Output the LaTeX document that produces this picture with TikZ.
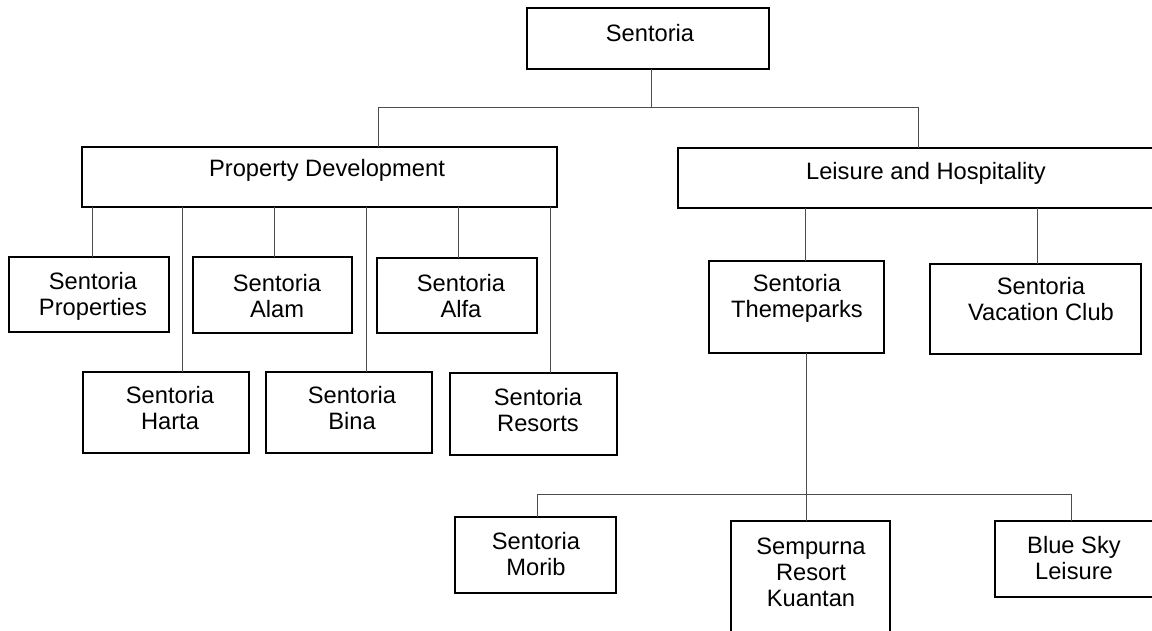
\documentclass[tikz,border=0pt]{standalone}
\usepackage{fontspec}
\setmainfont{Liberation Sans}
\begin{document}
\begin{tikzpicture}[x=1pt,y=-1pt,
  box/.style={draw=black, line width=1.3pt, inner sep=0pt, outer sep=0pt, anchor=north west},
  lbl/.style={align=center, inner sep=0pt, font=\fontsize{23.7}{26}\selectfont},
  conn/.style={draw=black!70, line width=0.9pt}]
\clip (0,0) rectangle (1152,630);
\fill[white] (0,0) rectangle (1152,630);
% boxes
\node[box, minimum width=242pt, minimum height=61pt] (top) at (527,8) {};
\node[box, minimum width=475pt, minimum height=60pt] (pd) at (82,147) {};
\node[box, minimum width=490pt, minimum height=60pt] (lh) at (678,148) {};
\node[box, minimum width=160pt, minimum height=75pt] (prop) at (9,257) {};
\node[box, minimum width=159pt, minimum height=76pt] (alam) at (193,257) {};
\node[box, minimum width=160pt, minimum height=75pt] (alfa) at (377,258) {};
\node[box, minimum width=166pt, minimum height=81pt] (harta) at (83,372) {};
\node[box, minimum width=166pt, minimum height=81pt] (bina) at (266,372) {};
\node[box, minimum width=167pt, minimum height=82pt] (resorts) at (450,373) {};
\node[box, minimum width=175pt, minimum height=92pt] (theme) at (709,261) {};
\node[box, minimum width=211pt, minimum height=90pt] (vac) at (930,264) {};
\node[box, minimum width=161pt, minimum height=76pt] (morib) at (455,517) {};
\node[box, minimum width=159pt, minimum height=130pt] (semp) at (731,521) {};
\node[box, minimum width=165pt, minimum height=76pt] (blue) at (995,521) {};
% labels
\node[lbl] (top-t) at (650,33) {Sentoria};
\node[lbl] (pd-t) at (327,170) {Property Development};
\node[lbl] (lh-t) at (926,173) {Leisure and Hospitality};
\node[lbl] (prop-t) at (93,296) {Sentoria\\Properties};
\node[lbl] (alam-t) at (277,296) {Sentoria\\Alam};
\node[lbl] (alfa-t) at (461,296) {Sentoria\\Alfa};
\node[lbl] (harta-t) at (170,408) {Sentoria\\Harta};
\node[lbl] (bina-t) at (352,408) {Sentoria\\Bina};
\node[lbl] (resorts-t) at (538,410) {Sentoria\\Resorts};
\node[lbl] (theme-t) at (797,298) {Sentoria\\Themeparks};
\node[lbl] (vac-t) at (1041,299) {Sentoria\\Vacation Club};
\node[lbl] (morib-t) at (536,554) {Sentoria\\Morib};
\node[lbl] (semp-t) at (811,572) {Sempurna\\Resort\\Kuantan};
\node[lbl] (blue-t) at (1074,558) {Blue Sky\\Leisure};
% connector joints
\coordinate (jt) at (651,107);
\coordinate (jpd) at (378,107);
\coordinate (jlh) at (918,107);
\coordinate (c1) at (92,0);
\coordinate (c2) at (182,0);
\coordinate (c3) at (274,0);
\coordinate (c4) at (366,0);
\coordinate (c5) at (458,0);
\coordinate (c6) at (550,0);
\coordinate (c7) at (805,0);
\coordinate (c8) at (1037,0);
\coordinate (jm) at (537,494);
\coordinate (js) at (806,494);
\coordinate (jb) at (1071,494);
% connectors
\draw[conn] (jt |- top.south) -- (jt);
\draw[conn] (jpd |- pd.north) -- (jpd) -- (jlh) -- (jlh |- lh.north);
\draw[conn] (c1 |- pd.south) -- (c1 |- prop.north);
\draw[conn] (c2 |- pd.south) -- (c2 |- harta.north);
\draw[conn] (c3 |- pd.south) -- (c3 |- alam.north);
\draw[conn] (c4 |- pd.south) -- (c4 |- bina.north);
\draw[conn] (c5 |- pd.south) -- (c5 |- alfa.north);
\draw[conn] (c6 |- pd.south) -- (c6 |- resorts.north);
\draw[conn] (c7 |- lh.south) -- (c7 |- theme.north);
\draw[conn] (c8 |- lh.south) -- (c8 |- vac.north);
\draw[conn] (js |- theme.south) -- (js |- semp.north);
\draw[conn] (jm |- morib.north) -- (jm) -- (jb) -- (jb |- blue.north);
\end{tikzpicture}
\end{document}
